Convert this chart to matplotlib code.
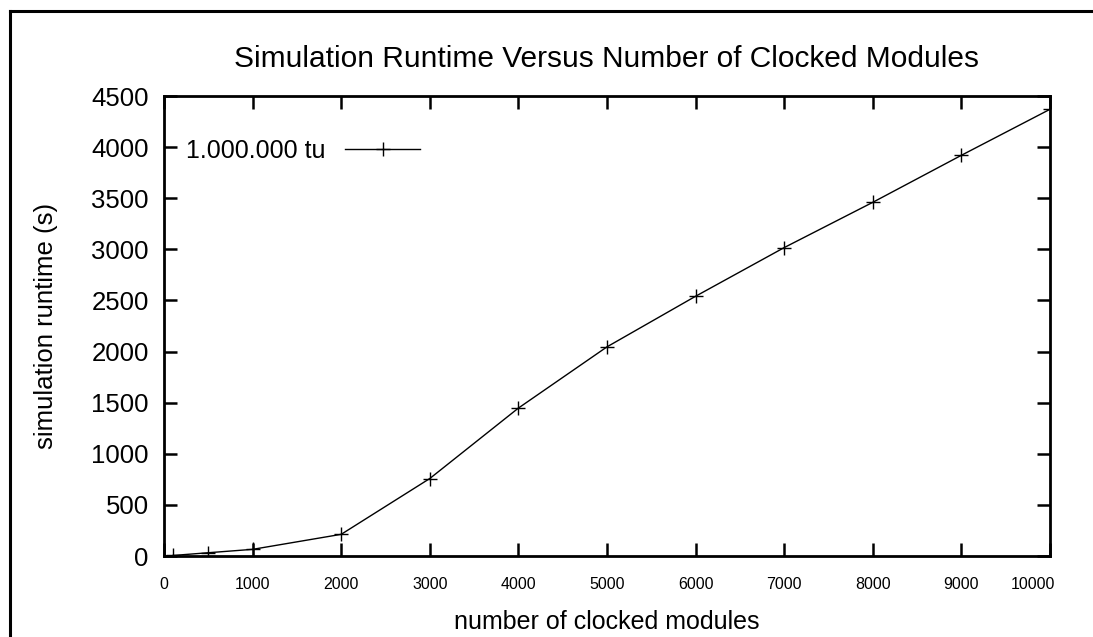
import matplotlib
matplotlib.use("Agg")
import matplotlib.pyplot as plt
from matplotlib.lines import Line2D
from matplotlib.transforms import ScaledTranslation

plt.rcParams["font.family"] = ["Liberation Sans", "DejaVu Sans"]

# data
modules = [100, 500, 1000, 2000, 3000, 4000, 5000, 6000, 7000, 8000, 9000, 10000]
runtime = [5, 32, 65, 212, 758, 1447, 2046, 2541, 3017, 3460, 3920, 4370]
xticks = [0, 1000, 2000, 3000, 4000, 5000, 6000, 7000, 8000, 9000, 10000]
yticks = [0, 500, 1000, 1500, 2000, 2500, 3000, 3500, 4000, 4500]

W, H = 1093, 637
fig = plt.figure(figsize=(W / 100, H / 100), dpi=100)
ax = fig.add_axes([164 / W, 1 - 556 / H, (1050 - 164) / W, (556 - 96) / H])

ax.plot(modules, runtime, color='black', lw=1.0, marker='+', ms=10,
        mew=1.0, label='1.000.000 tu')

ax.set_xlim(0, 10000)
ax.set_ylim(0, 4500)
ax.set_xticks(xticks)
ax.set_yticks(yticks)
ax.tick_params(axis='x', labelsize=11.5, pad=15)
ax.tick_params(axis='y', labelsize=18.5, pad=11)
ax.tick_params(direction='in', length=9.5, width=1.8, top=True, right=True)
for s in ax.spines.values():
    s.set_linewidth(2)

# last x label sits inside the frame, as in the original
last = ax.get_xticklabels()[-1]
last.set_transform(last.get_transform() + ScaledTranslation(-17 / 100, 0, fig.dpi_scale_trans))

ax.set_title('Simulation Runtime Versus Number of Clocked Modules', fontsize=21.5, pad=21)
ax.set_xlabel('number of clocked modules', fontsize=18, labelpad=13)
ax.set_ylabel('simulation runtime (s)', fontsize=18.5, labelpad=24)

leg = ax.legend(loc='upper left', frameon=False, markerfirst=False, fontsize=18,
                handlelength=3.0, handletextpad=0.8, borderaxespad=0.3,
                bbox_to_anchor=(0.005, 0.945))

# outer frame (left and top edges visible)
fig.add_artist(Line2D([10 / W, 10 / W], [0, 1 - 11 / H], transform=fig.transFigure,
                      color='black', lw=2.2))
fig.add_artist(Line2D([10 / W, 1], [1 - 11 / H, 1 - 11 / H], transform=fig.transFigure,
                      color='black', lw=2.2))

fig.savefig('out.png', dpi=100)
